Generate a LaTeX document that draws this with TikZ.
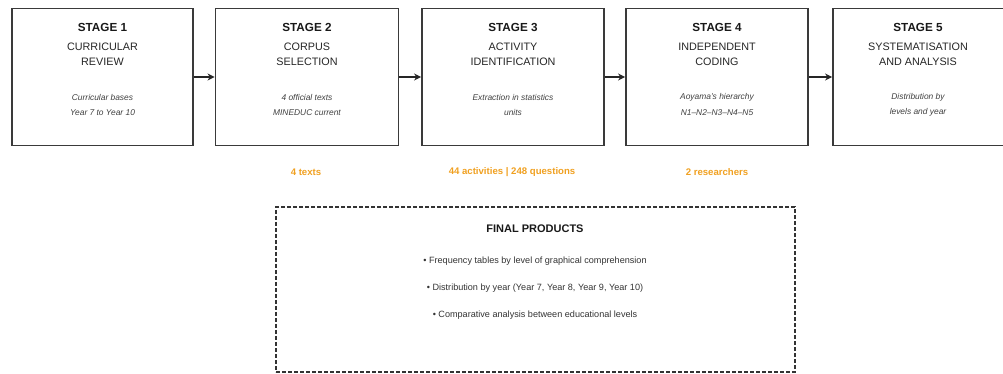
\documentclass[tikz,border=0pt]{standalone}
\usepackage{fontspec}
\setmainfont{Liberation Sans}
\usetikzlibrary{arrows.meta}
\definecolor{boxline}{HTML}{3A3A3A}
\definecolor{orangelab}{HTML}{F0A020}
\tikzset{
  stagebox/.style={draw=boxline, line width=1.9pt, fill=white, minimum width=181pt, minimum height=137pt, inner sep=0pt},
  stagetitle/.style={font=\fontsize{11.7}{13}\selectfont\bfseries, text=black!90},
  stagename/.style={font=\fontsize{10.8}{12}\selectfont, text=black!85},
  stagenote/.style={font=\fontsize{8.4}{10}\selectfont\itshape, text=black!75},
  countlab/.style={font=\fontsize{9.6}{11}\selectfont\bfseries, text=orangelab},
  flow/.style={draw=black!85, line width=1.4pt, -{Stealth[length=7pt,width=7pt]}},
  finalbox/.style={draw=black!80, line width=1.3pt, dash pattern=on 4pt off 2pt, minimum width=519pt, minimum height=165pt, inner sep=0pt},
  bullet/.style={font=\fontsize{9.1}{11}\selectfont, text=black!80},
}
\begin{document}
\begin{tikzpicture}[x=1pt,y=1pt]
\useasboundingbox (0,0) rectangle (1003,-374);
% stage boxes
\node[stagebox, minimum width=181pt] (s1) at (102.5,-77) {};
\node[stagebox, minimum width=183pt] (s2) at (307,-77) {};
\node[stagebox, minimum width=182pt] (s3) at (513,-77) {};
\node[stagebox, minimum width=182pt] (s4) at (717,-77) {};
\node[stagebox, minimum width=182pt] (s5) at (924,-77) {};
% texts
\foreach \n/\cx/\t/\a/\b/\c/\d in {
  1/102.5/STAGE 1/CURRICULAR/REVIEW/Curricular bases/Year 7 to Year 10,
  2/307/STAGE 2/CORPUS/SELECTION/4 official texts/MINEDUC current,
  3/513/STAGE 3/ACTIVITY/IDENTIFICATION/Extraction in statistics/units,
  4/717/STAGE 4/INDEPENDENT/CODING/Aoyama's hierarchy/N1--N2--N3--N4--N5,
  5/918/STAGE 5/SYSTEMATISATION/AND ANALYSIS/Distribution by/levels and year}{
  \node[stagetitle] (t\n) at (\cx,-27) {\t};
  \node[stagename] (na\n) at (\cx,-46.5) {\a};
  \node[stagename] (nb\n) at (\cx,-62) {\b};
  \node[stagenote] (ea\n) at (\cx,-97.5) {\c};
  \node[stagenote] (eb\n) at (\cx,-112.5) {\d};
}
% connectors
\draw[flow] (s1.east) -- (s2.west);
\draw[flow] (s2.east) -- (s3.west);
\draw[flow] (s3.east) -- (s4.west);
\draw[flow] (s4.east) -- (s5.west);
% counts
\node[countlab] (c2) at (306,-172) {4 texts};
\node[countlab] (c3) at (512,-172) {44 activities | 248 questions};
\node[countlab] (c4) at (717,-172) {2 researchers};
% final products
\node[finalbox] (fp) at (535.5,-289.5) {};
\node[font=\fontsize{11}{13}\selectfont\bfseries, text=black!90] (fpt) at (535,-229) {FINAL PRODUCTS};
\node[bullet] (b1) at (535,-261) {• Frequency tables by level of graphical comprehension};
\node[bullet] (b2) at (535,-288) {• Distribution by year (Year 7, Year 8, Year 9, Year 10)};
\node[bullet] (b3) at (535,-315) {• Comparative analysis between educational levels};
\end{tikzpicture}
\end{document}
